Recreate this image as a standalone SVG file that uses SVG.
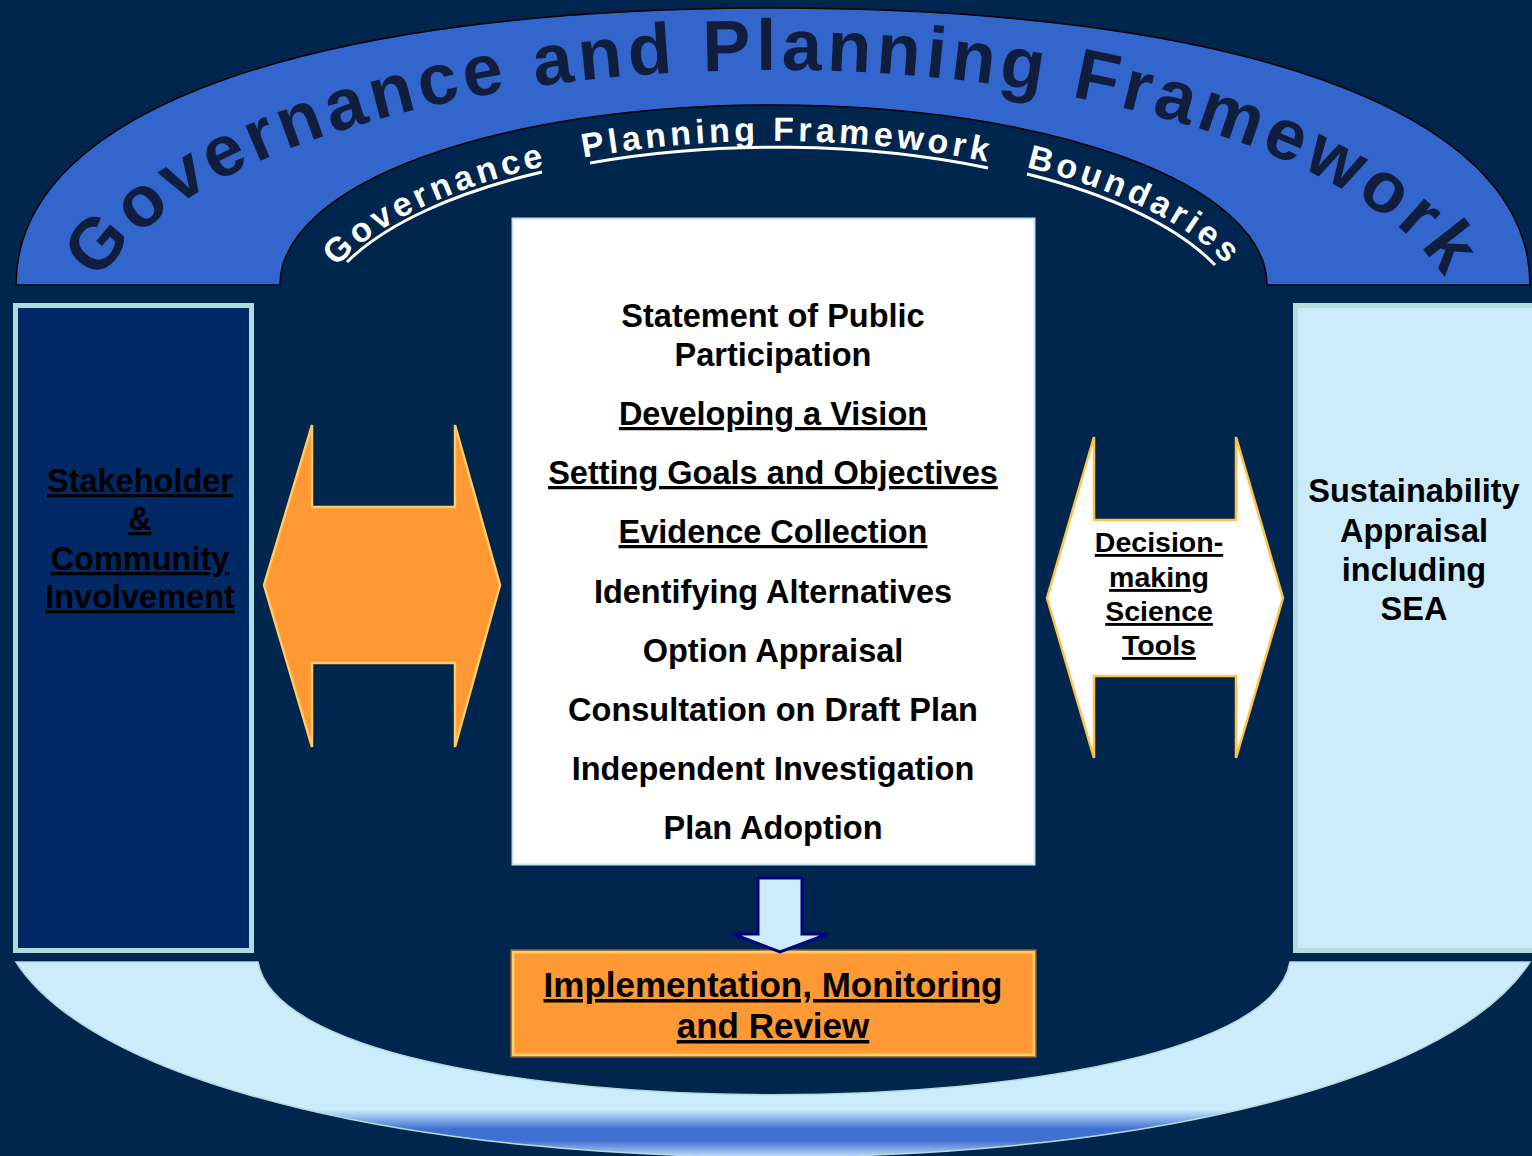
<svg xmlns="http://www.w3.org/2000/svg" width="1532" height="1156" viewBox="0 0 1532 1156">
<style>
.t{font-family:"Liberation Sans",Arial,sans-serif;font-weight:bold;fill:#000;text-anchor:middle}
.u{text-decoration:underline}
.big{font-size:32.5px}
.arcw{font-family:"Liberation Sans",Arial,sans-serif;font-weight:bold;fill:#fff;font-size:34px;letter-spacing:4.2px}
.ul{fill:none;stroke:#fff;stroke-width:3}
</style>
<defs>
<linearGradient id="bandGrad" gradientUnits="userSpaceOnUse" x1="0" y1="962" x2="0" y2="1156">
<stop offset="0" stop-color="#CCECFC"/>
<stop offset="0.76" stop-color="#CCECFC"/>
<stop offset="0.86" stop-color="#4071D2"/>
<stop offset="0.92" stop-color="#3F6FD0"/>
<stop offset="1" stop-color="#B8D6F6"/>
</linearGradient>
<path id="outerBase" d="M98,284 C160,172 423,70 773,70 C1123,70 1386,172 1448,284"/>
<path id="innerBase" d="M309,332 A466,191 0 0 1 1241,332"/>
<path id="innerBaseR" d="M324,332 A466,191 0 0 1 1256,332"/>
</defs>
<rect x="0" y="0" width="1532" height="1156" fill="#00264D"/>

<g id="outer-arch">
<path d="M16,285 C16,105 323,8 773,8 C1223,8 1530,105 1530,285 L1267,285 C1267,185 1053,105 773,105 C493,105 280,185 280,285 Z" fill="#3366CC" stroke="#000" stroke-width="1.5"/>
<text font-family="Liberation Sans, Arial, sans-serif" font-weight="bold" font-size="72" fill="#101D3C" letter-spacing="5"><textPath href="#outerBase" startOffset="2">Governance and Planning Framework</textPath></text>
</g>

<g id="arch-labels">
<text class="arcw"><textPath href="#innerBase" startOffset="72">Governance</textPath></text>
<text class="arcw"><textPath href="#innerBase" startOffset="346">Planning Framework</textPath></text>
<text class="arcw"><textPath href="#innerBaseR" startOffset="777">Boundaries</textPath></text>
<path class="ul" d="M347,262 A460,185 0 0 1 542,172"/>
<path class="ul" d="M590,163 A460,185 0 0 1 988,168"/>
<path class="ul" d="M1027,174 A460,185 0 0 1 1215,265"/>
</g>

<g id="bottom-band">
<path d="M16,962 C185,1222 1361,1222 1530,962 L1290,962 C1260,1139 288,1139 258,962 Z" fill="url(#bandGrad)" stroke="#B4DADC" stroke-width="1.5"/>
</g>

<g id="stakeholder">
<rect x="15.5" y="305.5" width="236" height="645" fill="#002966" stroke="#B0DCE0" stroke-width="5"/>
<text class="t big u" x="140" y="492">Stakeholder</text>
<text class="t big u" x="140" y="530">&amp;</text>
<text class="t big u" x="140" y="570">Community</text>
<text class="t big u" x="140" y="608">Involvement</text>
</g>

<g id="sustainability">
<rect x="1295.5" y="305.5" width="240" height="645" fill="#CCECFC" stroke="#B4DCDF" stroke-width="5"/>
<text class="t big" x="1414" y="502">Sustainability</text>
<text class="t big" x="1414" y="542">Appraisal</text>
<text class="t big" x="1414" y="581">including</text>
<text class="t big" x="1414" y="620">SEA</text>
</g>

<g id="process">
<rect x="512.5" y="218.5" width="522" height="646" fill="#FFFFFF" stroke="#C4E2E6" stroke-width="2"/>
<text class="t big" x="773" y="327">Statement of Public</text>
<text class="t big" x="773" y="366">Participation</text>
<text class="t big u" x="773" y="425">Developing a Vision</text>
<text class="t big u" x="773" y="484">Setting Goals and Objectives</text>
<text class="t big u" x="773" y="543">Evidence Collection</text>
<text class="t big" x="773" y="603">Identifying Alternatives</text>
<text class="t big" x="773" y="662">Option Appraisal</text>
<text class="t big" x="773" y="721">Consultation on Draft Plan</text>
<text class="t big" x="773" y="780">Independent Investigation</text>
<text class="t big" x="773" y="839">Plan Adoption</text>
</g>

<g id="implementation">
<rect x="513" y="952" width="521" height="103" fill="#FF9933" stroke="#FFCC66" stroke-width="3"/>
<rect x="511" y="950" width="525" height="107" fill="none" stroke="#C87A2A" stroke-width="1"/>
<text class="t u" font-size="35" x="773" y="997">Implementation, Monitoring</text>
<text class="t u" font-size="35" x="773" y="1038">and Review</text>
</g>

<g id="decision-tools">
<path d="M1047,598 L1094,437 L1094,520 L1236,520 L1236,437 L1283,598 L1236,758 L1236,676 L1094,676 L1094,758 Z" fill="#FFFFFF" stroke="#FFC34D" stroke-width="2.5" stroke-linejoin="miter"/>
<text class="t u" font-size="28.5" x="1159" y="552">Decision-</text>
<text class="t u" font-size="28.5" x="1159" y="587">making</text>
<text class="t u" font-size="28.5" x="1159" y="621">Science</text>
<text class="t u" font-size="28.5" x="1159" y="655">Tools</text>
</g>

<g id="connectors">
<path d="M264,585 L312,425 L312,507 L455,507 L455,425 L500,585 L455,747 L455,663 L312,663 L312,747 Z" fill="#FF9933" stroke="#FFCC66" stroke-width="2.5"/>
<path d="M758,878 L802,878 L802,934 L828,934 L780,952 L733,934 L758,934 Z" fill="#CCECFC" stroke="#000080" stroke-width="3" stroke-linejoin="miter"/>
</g>
</svg>
